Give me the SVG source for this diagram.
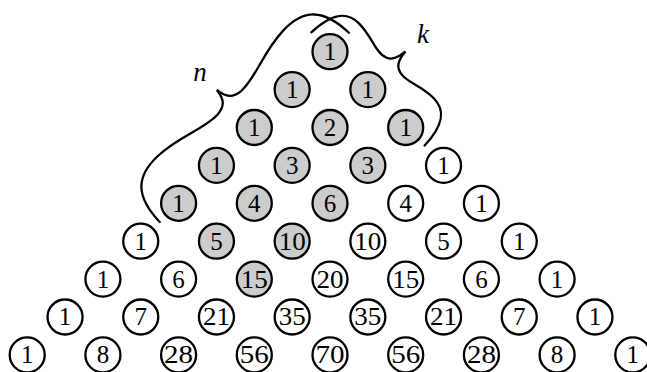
<svg xmlns="http://www.w3.org/2000/svg" width="647" height="372" viewBox="0 0 647 372">
<style>
.c{fill:#ffffff;stroke:#000;stroke-width:2.3}
.s{fill:#cccccc}
.t{font-family:"Liberation Serif",serif;font-size:25px;text-anchor:middle;fill:#000}
.b{fill:none;stroke:#000;stroke-width:2.3;stroke-linecap:round}
.l{font-family:"Liberation Serif",serif;font-size:27px;font-style:italic;text-anchor:middle;fill:#000}
</style>
<rect width="647" height="372" fill="#fff"/>
<g id="braces">
<path class="b" transform="translate(311.3,32.3) rotate(45)" d="M0,0 C1,-28 10,-40 27,-40 C45,-40 55,-33 66,-34 C75,-35 79,-40 80.1,-53 C81.2,-40 85.2,-35 94.2,-34 C105.2,-33 115.2,-40 133.2,-40 C150.2,-40 159.2,-28 160.2,0"/>
<path class="b" transform="translate(159.7,222) rotate(-45)" d="M0,0 C1,-35 15,-49 45,-48 C75,-47 97,-34 117,-35 C128,-36 132.5,-41 133.8,-53 C135.1,-41 139.6,-36 150.6,-35 C170.6,-34 192.6,-47 222.6,-48 C252.6,-49 266.6,-35 267.6,0"/>
<text class="l" x="200" y="81">n</text>
<text class="l" x="423" y="43">k</text>
</g>
<g id="n0k0"><circle class="c s" cx="330" cy="51.7" r="17.5"/><text class="t" x="330" y="60.1">1</text></g>
<g id="n1k0"><circle class="c s" cx="292.15" cy="89.6" r="17.5"/><text class="t" x="292.15" y="98">1</text></g>
<g id="n1k1"><circle class="c s" cx="367.85" cy="89.6" r="17.5"/><text class="t" x="367.85" y="98">1</text></g>
<g id="n2k0"><circle class="c s" cx="254.3" cy="127.5" r="17.5"/><text class="t" x="254.3" y="135.9">1</text></g>
<g id="n2k1"><circle class="c s" cx="330" cy="127.5" r="17.5"/><text class="t" x="330" y="135.9">2</text></g>
<g id="n2k2"><circle class="c s" cx="405.7" cy="127.5" r="17.5"/><text class="t" x="405.7" y="135.9">1</text></g>
<g id="n3k0"><circle class="c s" cx="216.45" cy="165.4" r="17.5"/><text class="t" x="216.45" y="173.8">1</text></g>
<g id="n3k1"><circle class="c s" cx="292.15" cy="165.4" r="17.5"/><text class="t" x="292.15" y="173.8">3</text></g>
<g id="n3k2"><circle class="c s" cx="367.85" cy="165.4" r="17.5"/><text class="t" x="367.85" y="173.8">3</text></g>
<g id="n3k3"><circle class="c" cx="443.55" cy="165.4" r="17.5"/><text class="t" x="443.55" y="173.8">1</text></g>
<g id="n4k0"><circle class="c s" cx="178.6" cy="203.3" r="17.5"/><text class="t" x="178.6" y="211.7">1</text></g>
<g id="n4k1"><circle class="c s" cx="254.3" cy="203.3" r="17.5"/><text class="t" x="254.3" y="211.7">4</text></g>
<g id="n4k2"><circle class="c s" cx="330" cy="203.3" r="17.5"/><text class="t" x="330" y="211.7">6</text></g>
<g id="n4k3"><circle class="c" cx="405.7" cy="203.3" r="17.5"/><text class="t" x="405.7" y="211.7">4</text></g>
<g id="n4k4"><circle class="c" cx="481.4" cy="203.3" r="17.5"/><text class="t" x="481.4" y="211.7">1</text></g>
<g id="n5k0"><circle class="c" cx="140.75" cy="241.2" r="17.5"/><text class="t" x="140.75" y="249.6">1</text></g>
<g id="n5k1"><circle class="c s" cx="216.45" cy="241.2" r="17.5"/><text class="t" x="216.45" y="249.6">5</text></g>
<g id="n5k2"><circle class="c s" cx="292.15" cy="241.2" r="17.5"/><text class="t" x="292.15" y="249.6" textLength="27" lengthAdjust="spacingAndGlyphs">10</text></g>
<g id="n5k3"><circle class="c" cx="367.85" cy="241.2" r="17.5"/><text class="t" x="367.85" y="249.6" textLength="27" lengthAdjust="spacingAndGlyphs">10</text></g>
<g id="n5k4"><circle class="c" cx="443.55" cy="241.2" r="17.5"/><text class="t" x="443.55" y="249.6">5</text></g>
<g id="n5k5"><circle class="c" cx="519.25" cy="241.2" r="17.5"/><text class="t" x="519.25" y="249.6">1</text></g>
<g id="n6k0"><circle class="c" cx="102.9" cy="279.1" r="17.5"/><text class="t" x="102.9" y="287.5">1</text></g>
<g id="n6k1"><circle class="c" cx="178.6" cy="279.1" r="17.5"/><text class="t" x="178.6" y="287.5">6</text></g>
<g id="n6k2"><circle class="c s" cx="254.3" cy="279.1" r="17.5"/><text class="t" x="254.3" y="287.5" textLength="27" lengthAdjust="spacingAndGlyphs">15</text></g>
<g id="n6k3"><circle class="c" cx="330" cy="279.1" r="17.5"/><text class="t" x="330" y="287.5" textLength="27" lengthAdjust="spacingAndGlyphs">20</text></g>
<g id="n6k4"><circle class="c" cx="405.7" cy="279.1" r="17.5"/><text class="t" x="405.7" y="287.5" textLength="27" lengthAdjust="spacingAndGlyphs">15</text></g>
<g id="n6k5"><circle class="c" cx="481.4" cy="279.1" r="17.5"/><text class="t" x="481.4" y="287.5">6</text></g>
<g id="n6k6"><circle class="c" cx="557.1" cy="279.1" r="17.5"/><text class="t" x="557.1" y="287.5">1</text></g>
<g id="n7k0"><circle class="c" cx="65.05" cy="317" r="17.5"/><text class="t" x="65.05" y="325.4">1</text></g>
<g id="n7k1"><circle class="c" cx="140.75" cy="317" r="17.5"/><text class="t" x="140.75" y="325.4">7</text></g>
<g id="n7k2"><circle class="c" cx="216.45" cy="317" r="17.5"/><text class="t" x="216.45" y="325.4" textLength="27" lengthAdjust="spacingAndGlyphs">21</text></g>
<g id="n7k3"><circle class="c" cx="292.15" cy="317" r="17.5"/><text class="t" x="292.15" y="325.4" textLength="27" lengthAdjust="spacingAndGlyphs">35</text></g>
<g id="n7k4"><circle class="c" cx="367.85" cy="317" r="17.5"/><text class="t" x="367.85" y="325.4" textLength="27" lengthAdjust="spacingAndGlyphs">35</text></g>
<g id="n7k5"><circle class="c" cx="443.55" cy="317" r="17.5"/><text class="t" x="443.55" y="325.4" textLength="27" lengthAdjust="spacingAndGlyphs">21</text></g>
<g id="n7k6"><circle class="c" cx="519.25" cy="317" r="17.5"/><text class="t" x="519.25" y="325.4">7</text></g>
<g id="n7k7"><circle class="c" cx="594.95" cy="317" r="17.5"/><text class="t" x="594.95" y="325.4">1</text></g>
<g id="n8k0"><circle class="c" cx="27.2" cy="354.9" r="17.5"/><text class="t" x="27.2" y="363.3">1</text></g>
<g id="n8k1"><circle class="c" cx="102.9" cy="354.9" r="17.5"/><text class="t" x="102.9" y="363.3">8</text></g>
<g id="n8k2"><circle class="c" cx="178.6" cy="354.9" r="17.5"/><text class="t" x="178.6" y="363.3" textLength="29" lengthAdjust="spacingAndGlyphs">28</text></g>
<g id="n8k3"><circle class="c" cx="254.3" cy="354.9" r="17.5"/><text class="t" x="254.3" y="363.3" textLength="29" lengthAdjust="spacingAndGlyphs">56</text></g>
<g id="n8k4"><circle class="c" cx="330" cy="354.9" r="17.5"/><text class="t" x="330" y="363.3" textLength="29" lengthAdjust="spacingAndGlyphs">70</text></g>
<g id="n8k5"><circle class="c" cx="405.7" cy="354.9" r="17.5"/><text class="t" x="405.7" y="363.3" textLength="29" lengthAdjust="spacingAndGlyphs">56</text></g>
<g id="n8k6"><circle class="c" cx="481.4" cy="354.9" r="17.5"/><text class="t" x="481.4" y="363.3" textLength="29" lengthAdjust="spacingAndGlyphs">28</text></g>
<g id="n8k7"><circle class="c" cx="557.1" cy="354.9" r="17.5"/><text class="t" x="557.1" y="363.3">8</text></g>
<g id="n8k8"><circle class="c" cx="632.8" cy="354.9" r="17.5"/><text class="t" x="632.8" y="363.3">1</text></g>
</svg>
